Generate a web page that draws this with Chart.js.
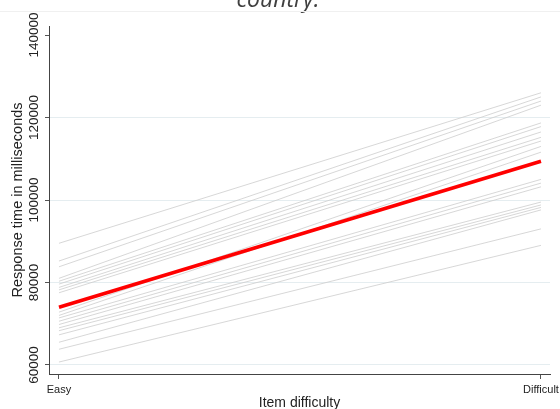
<!DOCTYPE html>
<html>
<head>
<meta charset="utf-8">
<script src="https://cdn.jsdelivr.net/npm/chart.js@4/dist/chart.umd.min.js"></script>
<style>
  html, body { margin: 0; padding: 0; background: #fff; }
  #wrap { position: relative; width: 560px; height: 409px; overflow: hidden; }
</style>
</head>
<body>
<div id="wrap"><canvas id="rtChart" width="560" height="409"></canvas></div>
<script>
// item difficulty categories
var categories = ['Easy', 'Difficult'];

// one line per country: response time (ms) on easy and difficult items
var easyTimes = [89500, 85200, 83800, 81000, 80300, 79600, 78800, 78200, 77500, 72800,
                 72000, 71400, 70600, 69800, 69000, 68300, 67300, 65500, 63800, 60700];
var difficultTimes = [126000, 125000, 124000, 123000, 118700, 117800, 116500, 115200, 114300, 113000,
                      111600, 105000, 104100, 103200, 99500, 98800, 98200, 97600, 93000, 89000];

// overall mean line
var meanTimes = [74000, 109400];

var yTicks = [60000, 80000, 100000, 120000, 140000];

var datasets = [];
for (var i = 0; i < easyTimes.length; i++) {
    datasets.push({
        data: [{ x: 0, y: easyTimes[i] }, { x: 1, y: difficultTimes[i] }],
        borderColor: '#cdcdcd',
        borderWidth: 0.8,
        pointRadius: 0,
        order: 2
    });
}
datasets.push({
    data: [{ x: 0, y: meanTimes[0] }, { x: 1, y: meanTimes[1] }],
    borderColor: '#ff0000',
    borderWidth: 3.5,
    pointRadius: 0,
    order: 1
});

// text is drawn by hand so the rotated tick labels and titles sit where they should
var textPlugin = {
    id: 'axisText',
    afterDraw: function(chart) {
        var ctx = chart.ctx;
        var xs = chart.scales.x, ys = chart.scales.y;
        var area = chart.chartArea;
        ctx.save();

        // heading left over from the slide above
        ctx.fillStyle = '#404040';
        ctx.font = 'italic 23px "Open Sans", sans-serif';
        ctx.textAlign = 'center';
        ctx.textBaseline = 'alphabetic';
        ctx.fillText('country.', 278, 7);
        ctx.strokeStyle = '#f0f0f0';
        ctx.lineWidth = 1;
        ctx.beginPath();
        ctx.moveTo(0, 11.5);
        ctx.lineTo(560, 11.5);
        ctx.stroke();

        // y tick labels, rotated
        ctx.fillStyle = '#222';
        ctx.font = '13.5px "Liberation Sans", Arial, sans-serif';
        ctx.textBaseline = 'middle';
        yTicks.forEach(function(v) {
            var py = ys.getPixelForValue(v);
            ctx.save();
            ctx.translate(34, py);
            ctx.rotate(-Math.PI / 2);
            ctx.fillText(String(v), 0, 0);
            ctx.restore();
        });

        // y title
        ctx.font = '14.5px "Liberation Sans", Arial, sans-serif';
        ctx.save();
        ctx.translate(17.5, (area.top + area.bottom) / 2);
        ctx.rotate(-Math.PI / 2);
        ctx.fillText('Response time in milliseconds', 0, 0);
        ctx.restore();

        // x tick labels
        ctx.font = '11px "Liberation Sans", Arial, sans-serif';
        categories.forEach(function(c, i) {
            ctx.fillText(c, xs.getPixelForValue(i), 390);
        });

        // x title
        ctx.font = '14px "Liberation Sans", Arial, sans-serif';
        ctx.fillText('Item difficulty', (area.left + area.right) / 2, 403);

        ctx.restore();
    }
};

new Chart(document.getElementById('rtChart'), {
    type: 'line',
    data: { datasets: datasets },
    options: {
        responsive: false,
        animation: false,
        layout: { padding: { top: 26, right: 10, left: 0, bottom: 0 } },
        plugins: { legend: { display: false }, tooltip: { enabled: false }, title: { display: false } },
        scales: {
            x: {
                type: 'linear',
                min: -0.0207,
                max: 1.0187,
                afterBuildTicks: function(scale) {
                    scale.ticks = categories.map(function(c, i) { return { value: i }; });
                },
                afterFit: function(scale) { scale.height = 35; },
                ticks: { display: false },
                grid: { drawOnChartArea: false, drawTicks: true, tickLength: 5, tickColor: '#555' },
                border: { color: '#444', width: 1 }
            },
            y: {
                min: 57800,
                max: 142200,
                afterBuildTicks: function(scale) {
                    scale.ticks = yTicks.map(function(v) { return { value: v }; });
                },
                afterFit: function(scale) { scale.width = 49; },
                ticks: { display: false },
                grid: {
                    color: function(c) {
                        return c.tick && c.tick.value === 140000 ? 'rgba(0,0,0,0)' : '#e5edf0';
                    },
                    tickColor: '#555',
                    tickLength: 4,
                    lineWidth: 1
                },
                border: { color: '#444', width: 1 }
            }
        }
    },
    plugins: [textPlugin]
});
</script>
</body>
</html>
